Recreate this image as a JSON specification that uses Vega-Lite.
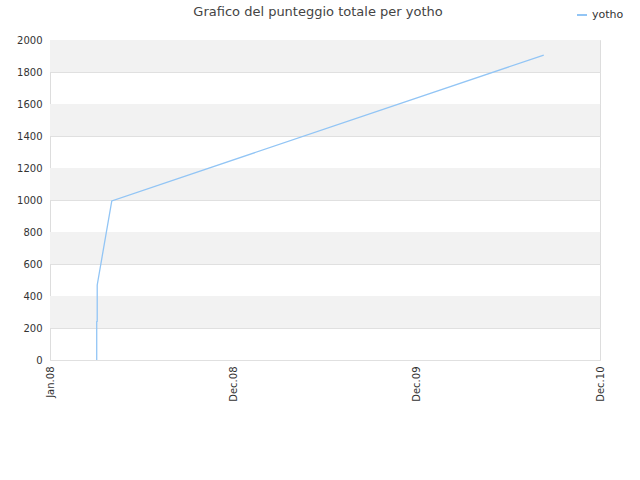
{
  "$schema": "https://vega.github.io/schema/vega-lite/v6.json",
  "autosize": {"type": "none"},
  "width": 550,
  "height": 320,
  "padding": {"left": 50, "top": 40, "right": 40, "bottom": 120},
  "background": "white",
  "config": {
    "font": "DejaVu Sans",
    "view": {"stroke": "#dddddd", "strokeWidth": 1},
    "axis": {"labelColor": "#333333", "labelFontSize": 10, "domain": false, "ticks": false, "grid": false}
  },
  "title": {
    "text": "Grafico del punteggio totale per yotho",
    "fontSize": 13,
    "fontWeight": "normal",
    "color": "#444444",
    "anchor": "middle",
    "dx": -7,
    "offset": 0,
    "dy": 10
  },
  "datasets": {
    "bands": [
      {"lo": 200, "hi": 400},
      {"lo": 600, "hi": 800},
      {"lo": 1000, "hi": 1200},
      {"lo": 1400, "hi": 1600},
      {"lo": 1800, "hi": 2000}
    ],
    "scores": [
      {"date": "2008-04-03", "score": 0, "player": "yotho"},
      {"date": "2008-04-03", "score": 240, "player": "yotho"},
      {"date": "2008-04-04", "score": 242, "player": "yotho"},
      {"date": "2008-04-04", "score": 469, "player": "yotho"},
      {"date": "2008-05-03", "score": 994, "player": "yotho"},
      {"date": "2010-09-10", "score": 1906, "player": "yotho"}
    ]
  },
  "layer": [
    {
      "data": {"name": "bands"},
      "mark": {"type": "rect", "color": "#f2f2f2"},
      "encoding": {
        "y": {
          "field": "lo",
          "type": "quantitative",
          "title": null,
          "scale": {"domain": [0, 2000]},
          "axis": {
            "values": [0, 200, 400, 600, 800, 1000, 1200, 1400, 1600, 1800, 2000],
            "format": "d",
            "labelOverlap": false,
            "grid": true,
            "gridColor": "#e0e0e0",
            "labelPadding": 8
          }
        },
        "y2": {"field": "hi"}
      }
    },
    {
      "data": {"name": "scores"},
      "mark": {"type": "line", "strokeWidth": 1.3, "interpolate": "linear"},
      "encoding": {
        "x": {
          "field": "date",
          "type": "temporal",
          "title": null,
          "scale": {"domain": ["2008-01-01T00:00:00", "2010-12-31T00:00:00"], "nice": false},
          "axis": {
            "values": ["2008-01-01T00:00:00", "2008-12-31T00:00:00", "2009-12-31T00:00:00", "2010-12-31T00:00:00"],
            "format": "%b.%y",
            "labelAngle": -90,
            "labelPadding": 6,
            "labelOverlap": false
          }
        },
        "y": {
          "field": "score",
          "type": "quantitative",
          "title": null,
          "scale": {"domain": [0, 2000]},
          "axis": {
            "values": [0, 200, 400, 600, 800, 1000, 1200, 1400, 1600, 1800, 2000],
            "format": "d",
            "labelOverlap": false,
            "grid": true,
            "gridColor": "#e0e0e0",
            "labelPadding": 8
          }
        },
        "color": {
          "field": "player",
          "type": "nominal",
          "scale": {"range": ["#92c5f5"]},
          "legend": {
            "title": null,
            "orient": "none",
            "legendX": 526,
            "legendY": -31,
            "symbolType": "stroke",
            "symbolSize": 100,
            "symbolStrokeWidth": 2,
            "labelFontSize": 11,
            "labelColor": "#333333"
          }
        }
      }
    }
  ]
}
